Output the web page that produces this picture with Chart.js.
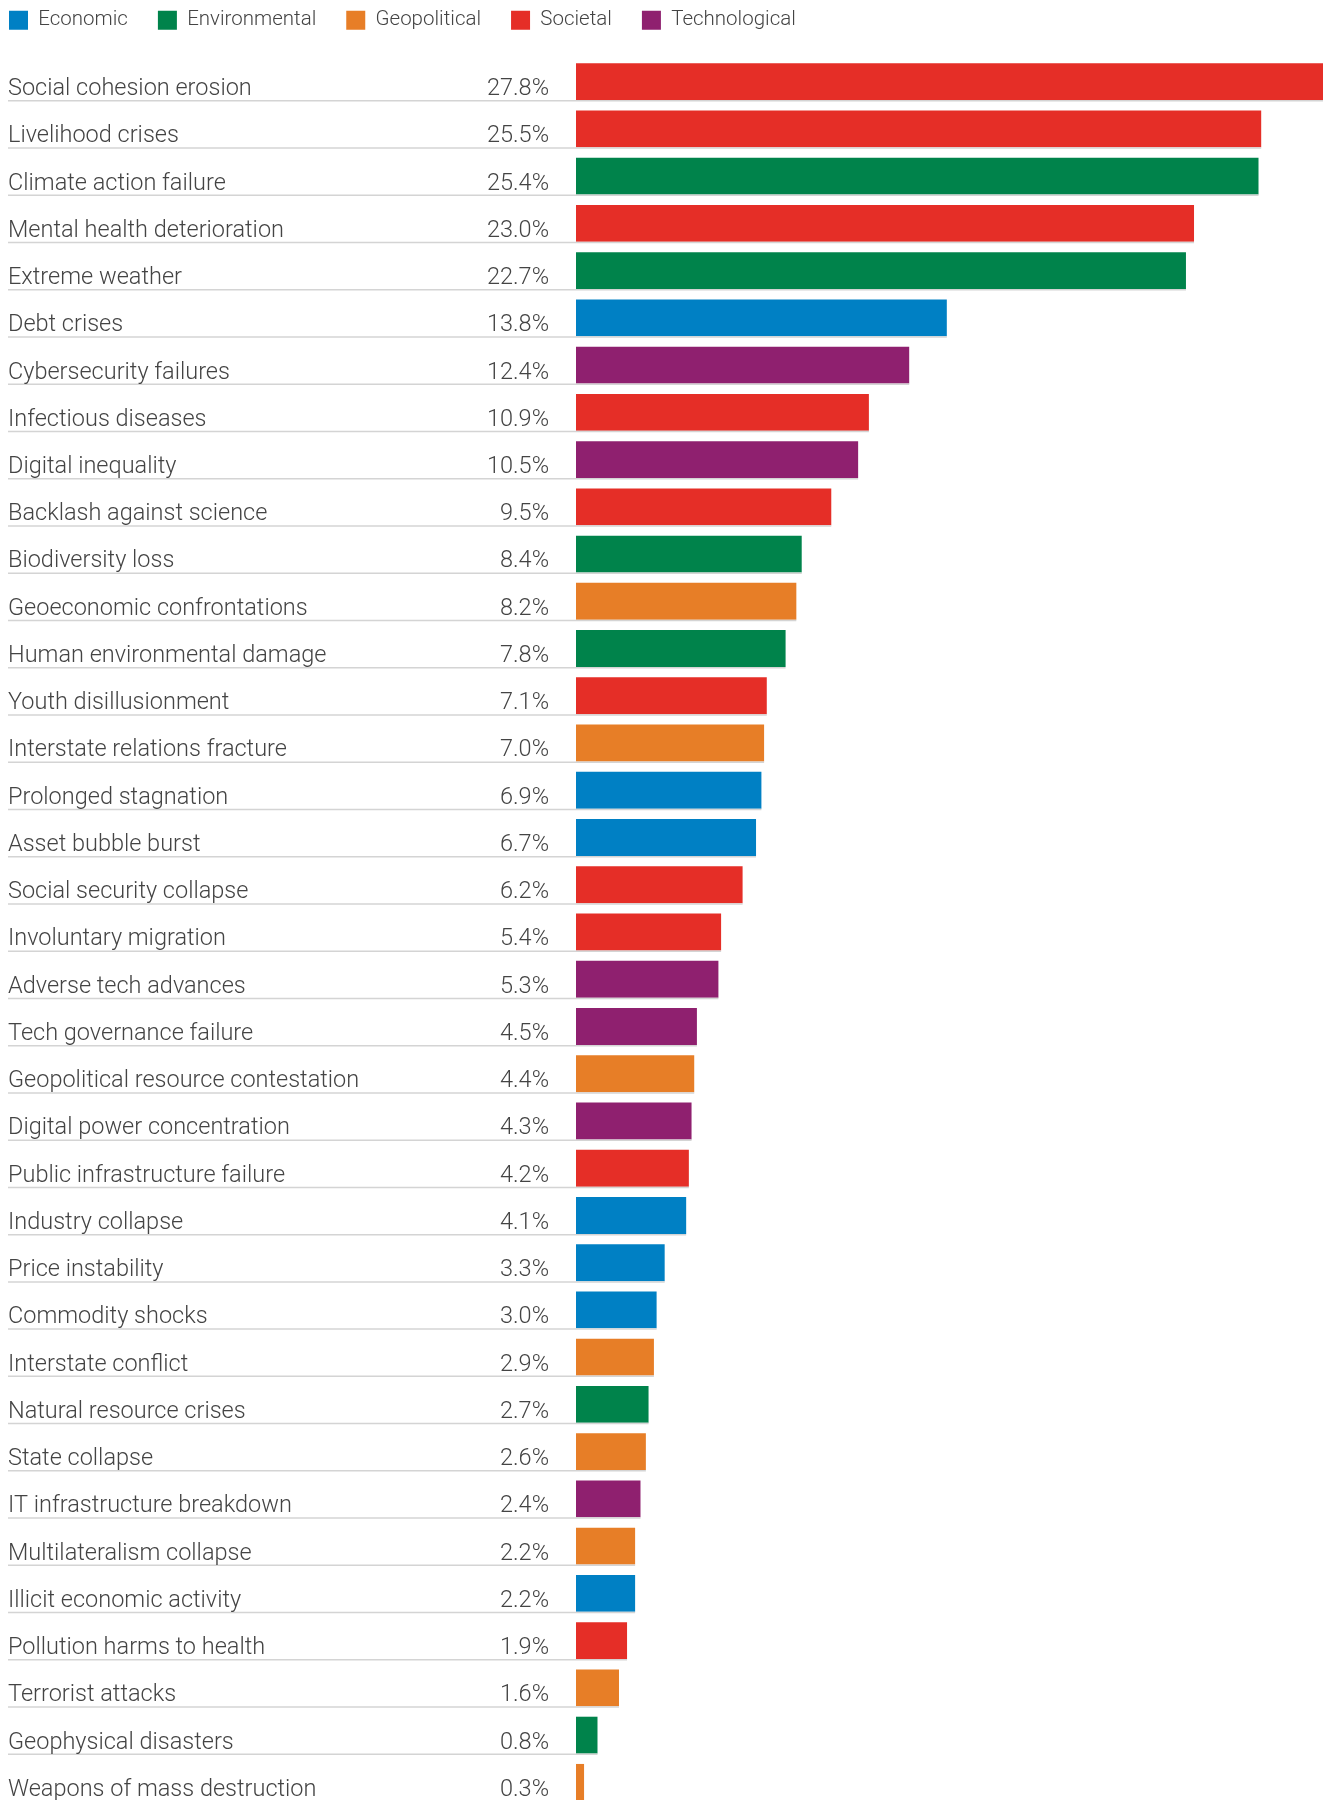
<!DOCTYPE html>
<html>
<head>
<meta charset="utf-8">
<script src="https://cdn.jsdelivr.net/npm/chart.js@4.4.1/dist/chart.umd.min.js"></script>
<style>
  html, body { margin: 0; padding: 0; background: #fff; overflow: hidden; }
  /* canvas nudged up/left so the legend's built-in padding lands where the original has it */
  #wrap { position: absolute; left: -21px; top: -20px; width: 1352px; height: 1830px; }
</style>
</head>
<body>
<div id="wrap"><canvas id="riskChart"></canvas></div>
<script>
const risks = [
  'Social cohesion erosion', 'Livelihood crises', 'Climate action failure',
  'Mental health deterioration', 'Extreme weather', 'Debt crises',
  'Cybersecurity failures', 'Infectious diseases', 'Digital inequality',
  'Backlash against science', 'Biodiversity loss', 'Geoeconomic confrontations',
  'Human environmental damage', 'Youth disillusionment', 'Interstate relations fracture',
  'Prolonged stagnation', 'Asset bubble burst', 'Social security collapse',
  'Involuntary migration', 'Adverse tech advances', 'Tech governance failure',
  'Geopolitical resource contestation', 'Digital power concentration',
  'Public infrastructure failure', 'Industry collapse', 'Price instability',
  'Commodity shocks', 'Interstate conflict', 'Natural resource crises',
  'State collapse', 'IT infrastructure breakdown', 'Multilateralism collapse',
  'Illicit economic activity', 'Pollution harms to health', 'Terrorist attacks',
  'Geophysical disasters', 'Weapons of mass destruction'
];

const shares = [
  27.8, 25.5, 25.4, 23.0, 22.7, 13.8, 12.4, 10.9, 10.5, 9.5,
  8.4, 8.2, 7.8, 7.1, 7.0, 6.9, 6.7, 6.2, 5.4, 5.3,
  4.5, 4.4, 4.3, 4.2, 4.1, 3.3, 3.0, 2.9, 2.7, 2.6,
  2.4, 2.2, 2.2, 1.9, 1.6, 0.8, 0.3
];

const riskGroups = [
  'Societal', 'Societal', 'Environmental', 'Societal', 'Environmental', 'Economic',
  'Technological', 'Societal', 'Technological', 'Societal', 'Environmental', 'Geopolitical',
  'Environmental', 'Societal', 'Geopolitical', 'Economic', 'Economic', 'Societal',
  'Societal', 'Technological', 'Technological', 'Geopolitical', 'Technological',
  'Societal', 'Economic', 'Economic', 'Economic', 'Geopolitical', 'Environmental',
  'Geopolitical', 'Technological', 'Geopolitical', 'Economic', 'Societal', 'Geopolitical',
  'Environmental', 'Geopolitical'
];

const groupNames = ['Economic', 'Environmental', 'Geopolitical', 'Societal', 'Technological'];

const groupColors = {
  Economic: '#0080c4',
  Environmental: '#00834b',
  Geopolitical: '#e77e27',
  Societal: '#e52e27',
  Technological: '#8f206f'
};

const textColor = '#444444';
const fontFamily = "Roboto, 'Liberation Sans', Arial, sans-serif";

// labels on the left, values next to the bars, grey rule under each row
const rowLabels = {
  id: 'rowLabels',
  afterDatasetsDraw(chart) {
    const ctx = chart.ctx;
    const bars = chart.getDatasetMeta(0).data;
    ctx.save();
    ctx.font = '300 23.5px ' + fontFamily;
    ctx.fillStyle = textColor;
    ctx.textBaseline = 'alphabetic';
    bars.forEach((bar, i) => {
      const bottom = bar.y + bar.height / 2;

      ctx.strokeStyle = '#d4d4d4';
      ctx.lineWidth = 1.5;
      ctx.beginPath();
      ctx.moveTo(29, bottom + 0.75);
      ctx.lineTo(bar.x, bottom + 0.75);
      ctx.stroke();

      ctx.textAlign = 'left';
      ctx.fillText(risks[i], 29, bottom - 5);
      ctx.textAlign = 'right';
      ctx.fillText(shares[i].toFixed(1) + '%', 570, bottom - 5);
    });
    ctx.restore();
  }
};

const ctx = document.getElementById('riskChart').getContext('2d');

const riskChart = new Chart(ctx, {
  type: 'bar',
  data: {
    labels: risks,
    datasets: [{
      data: shares,
      backgroundColor: riskGroups.map(g => groupColors[g]),
      barPercentage: 0.78,
      categoryPercentage: 1
    }]
  },
  options: {
    indexAxis: 'y',
    responsive: true,
    maintainAspectRatio: false,
    animation: false,
    layout: {
      padding: { left: 0, right: 8, top: 0, bottom: 4 }
    },
    plugins: {
      legend: {
        display: true,
        position: 'top',
        align: 'start',
        labels: {
          boxWidth: 19,
          boxHeight: 19,
          padding: 30,
          color: textColor,
          font: { family: fontFamily, size: 20.5, weight: '300' },
          generateLabels: () => groupNames.map(name => ({
            text: name,
            fillStyle: groupColors[name],
            strokeStyle: groupColors[name],
            lineWidth: 0,
            fontColor: textColor
          }))
        }
      },
      tooltip: { enabled: false }
    },
    scales: {
      x: {
        position: 'top',
        min: 0,
        max: 27.8,
        ticks: { display: false },
        grid: { display: false },
        border: { display: false },
        afterFit(scale) { scale.height = 17.5; }
      },
      y: {
        ticks: { display: false },
        grid: { display: false },
        border: { display: false },
        afterFit(scale) { scale.width = 597; }
      }
    }
  },
  plugins: [rowLabels]
});
</script>
</body>
</html>
